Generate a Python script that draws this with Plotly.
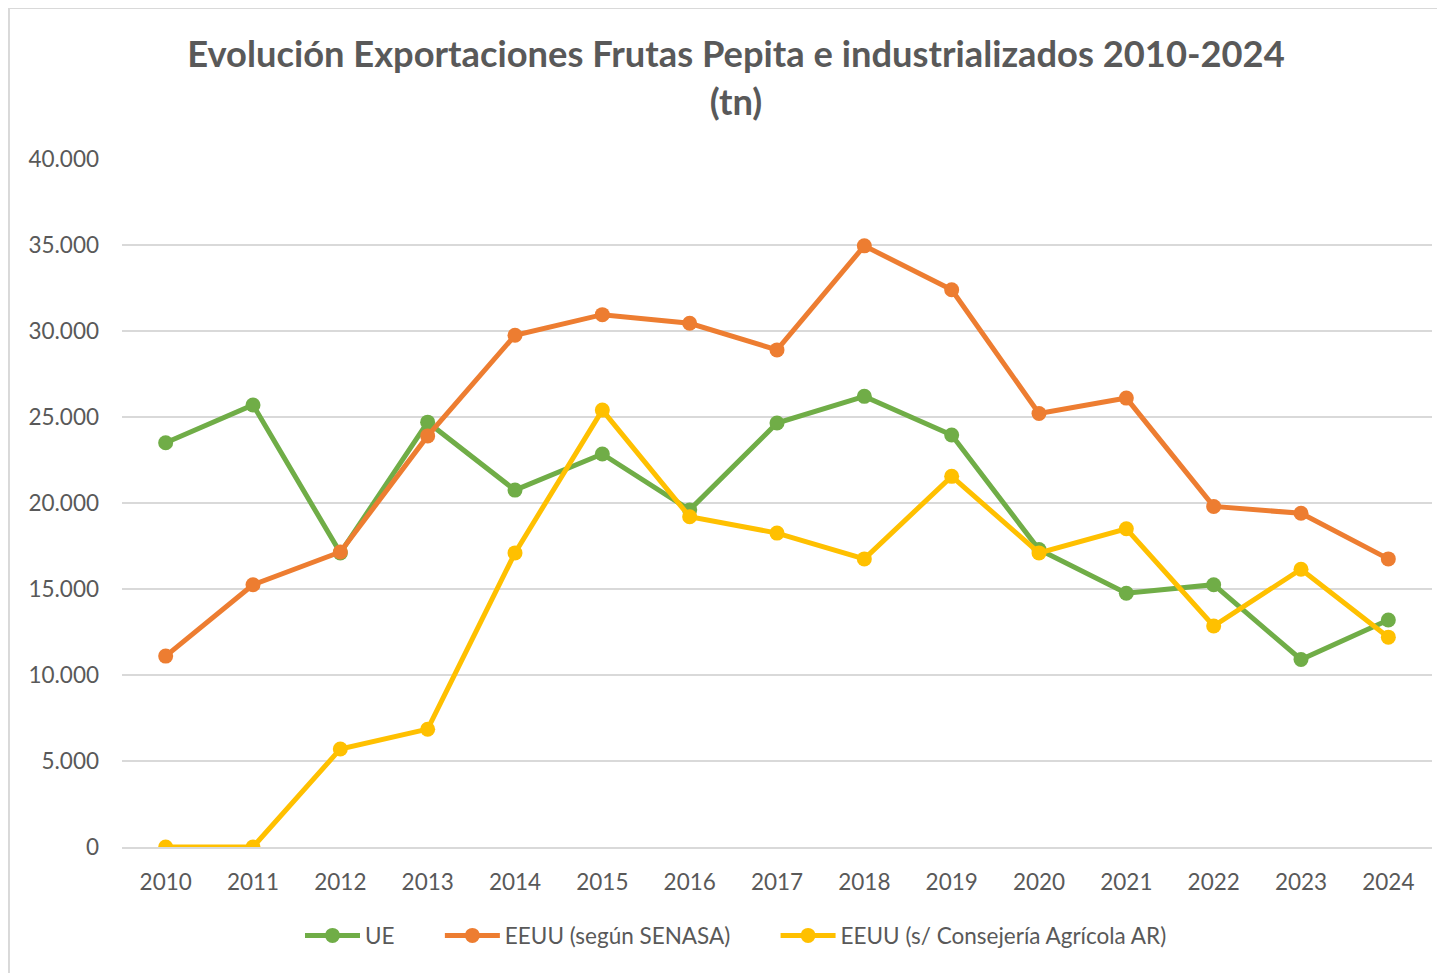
import plotly.graph_objects as go

years = ["2010", "2011", "2012", "2013", "2014", "2015", "2016", "2017",
         "2018", "2019", "2020", "2021", "2022", "2023", "2024"]

ue = [23500, 25700, 17100, 24700, 20750, 22850, 19600, 24650,
      26200, 23950, 17300, 14750, 15250, 10900, 13200]
eeuu_senasa = [11100, 15250, 17150, 23900, 29750, 30950, 30450, 28900,
               34950, 32400, 25200, 26100, 19800, 19400, 16750]
eeuu_consejeria = [0, 0, 5700, 6850, 17100, 25400, 19200, 18250,
                   16750, 21550, 17100, 18500, 12850, 16150, 12200]

series = [
    ("UE", ue, "#70AD47"),
    ("EEUU (según SENASA)", eeuu_senasa, "#ED7D31"),
    ("EEUU (s/ Consejería Agrícola AR)", eeuu_consejeria, "#FFC000"),
]

FONT = "Lato"
GREY = "#595959"
PAD = "\u00a0" * 7  # extra room between legend entries

fig = go.Figure()
for i, (name, vals, color) in enumerate(series):
    label = name if i == len(series) - 1 else name + PAD
    fig.add_trace(go.Scatter(
        x=years, y=vals, name=label, mode="lines+markers",
        line=dict(color=color, width=5),
        marker=dict(color=color, size=15),
    ))

# page has an 8px body margin, so the figure is a bit smaller than the window
fig.update_layout(
    width=1437, height=965,
    margin=dict(l=114, r=13, t=151, b=126),
    paper_bgcolor="white", plot_bgcolor="white",
    separators=",.",
    font=dict(family=FONT, color=GREY, size=22),
    title=dict(
        text="<b>Evolución Exportaciones Frutas Pepita e industrializados 2010-2024<br>(tn)</b>",
        x=0.4687, xref="paper", xanchor="center",
        y=0.9385, yref="container", yanchor="top",
        font=dict(family=FONT, size=36.3, color=GREY),
    ),
    showlegend=True,
    legend=dict(
        orientation="h", x=0.4687, xanchor="center", y=-0.129, yanchor="middle",
        font=dict(family=FONT, size=22.5, color=GREY),
        itemwidth=55, traceorder="normal",
    ),
    xaxis=dict(
        type="category", range=[-0.5, 14.5],
        showgrid=False, showline=True, linecolor="#D9D9D9", linewidth=1.5,
        ticks="", ticklabelstandoff=14,
        tickfont=dict(family=FONT, size=22.5, color=GREY),
    ),
    yaxis=dict(
        range=[0, 40000], dtick=5000, tickformat=",.0f",
        showgrid=True, gridcolor="#D9D9D9", gridwidth=1.5,
        zeroline=False, showline=False, ticks="",
        ticklabelstandoff=22,
        tickfont=dict(family=FONT, size=22.5, color=GREY),
    ),
    shapes=[dict(
        type="rect", xref="paper", yref="paper",
        x0=-0.0863, x1=1.03, y0=-0.2, y1=1.2195,
        line=dict(color="#D9D9D9", width=2), fillcolor="rgba(0,0,0,0)",
        layer="below",
    )],
)

fig.write_html("out.html")
